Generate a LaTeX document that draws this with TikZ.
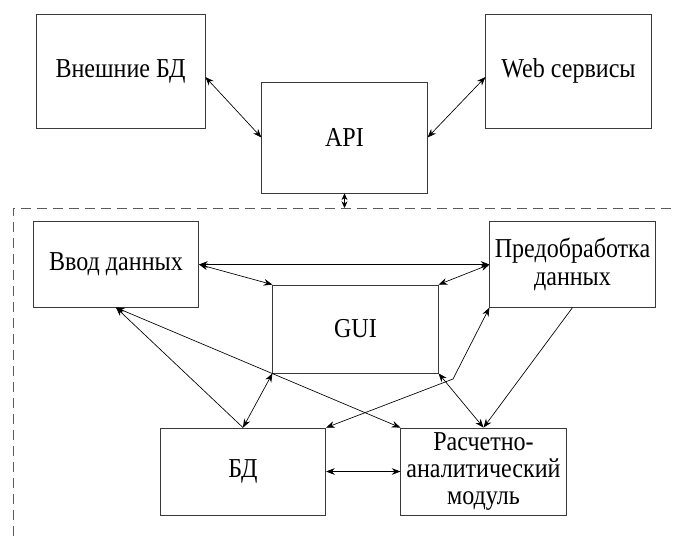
\documentclass[tikz,border=0pt]{standalone}
\usepackage{fontspec}
\setmainfont{Liberation Serif}[FakeStretch=0.88]
\definecolor{mLine}{HTML}{3A3A3A}
\definecolor{mFrame}{HTML}{5A5A5A}
\usetikzlibrary{positioning,arrows.meta,calc}

\begin{document}
\begin{tikzpicture}[x=0.75pt, y=-0.75pt, font=\fontsize{20.5}{20.6}\selectfont,
  blok/.style={draw=mLine, line width=0.6pt, rectangle, align=center, minimum width=124pt, minimum height=64pt, inner sep=2pt},
  svyaz/.style={draw=black, line width=0.5pt, {Stealth[length=6.5pt,width=5pt]}-{Stealth[length=6.5pt,width=5pt]}},
  odna/.style={draw=black, line width=0.5pt, -{Stealth[length=6.5pt,width=5pt]}}]
\useasboundingbox (0,0) rectangle (673,536);
% external level
\node[blok, minimum width=126.75pt, minimum height=85.5pt] (ext) at (120.5,71) {Внешние БД};
\node[blok, minimum height=83.25pt] (api) at (344.5,137.5) {API};
\node[blok, minimum height=85.5pt] (web) at (568.5,71) {Web сервисы};
% system boundary
\draw[mFrame, line width=0.6pt, dash pattern=on 7.5pt off 4.5pt] (13,536) -- (13,208) -- (673,208);
\coordinate (gran) at (344.5,208);
% inner blocks
\node[blok] (inp) at (116,264.5) {Ввод данных};
\node[blok] (pre) at (572.5,264.5) {Предобработка\\данных};
\node[blok, minimum height=66pt] (gui) at (355.5,329) {GUI};
\node[blok, minimum height=65.25pt] (db) at (243,471.5) {БД};
\node[blok, minimum height=65.25pt] (calc) at (483.5,471.5) {Расчетно-\\аналитический\\модуль};
\coordinate (izgib) at (453,379);
% connections
\draw[svyaz] ([yshift=-4.5pt]ext.east) -- (api.west);
\draw[svyaz] ([yshift=-4.5pt]web.west) -- (api.east);
\draw[svyaz, {Stealth[length=5pt,width=4.5pt]}-{Stealth[length=5pt,width=4.5pt]}] (api.south) -- (gran);
\draw[svyaz] (inp.east) -- (pre.west);
\draw[svyaz] (inp.east) -- (gui.north west);
\draw[svyaz] (gui.north east) -- (pre.west);
\draw[odna] (db.north) -- (inp.south);
\draw[svyaz] (inp.south) -- (calc.north west);
\draw[svyaz] (gui.south west) -- (db.north);
\draw[svyaz] (gui.south east) -- (calc.north);
\draw[odna] (pre.south) -- (calc.north);
\draw[svyaz] (db.north east) -- (izgib) -- (pre.south west);
\draw[svyaz] (db.east) -- (calc.west);
\end{tikzpicture}
\end{document}
